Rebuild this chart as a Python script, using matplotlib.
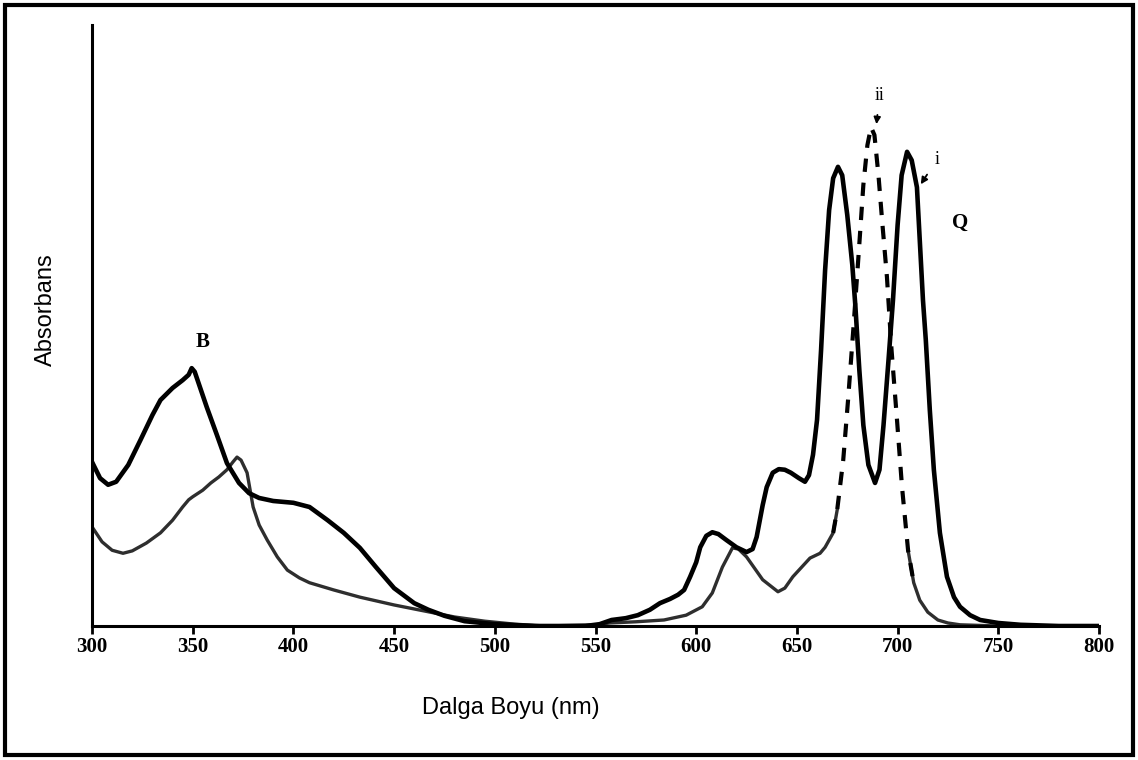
import numpy as np
import matplotlib.pyplot as plt
from matplotlib.patches import Rectangle

# spektrum i (kalin duz cizgi)
wl_i = [300, 304, 308, 312, 318, 324, 330, 334, 340, 345, 348, 349.5, 351, 357, 362, 367, 373, 378, 383, 390,
        400, 408, 417, 425, 433, 441, 450, 460, 467, 475, 485, 500, 520, 545, 552, 558, 565, 571, 577, 582,
        587, 591, 594, 597, 600, 602, 605, 608, 611, 615, 620, 625, 628, 630, 633, 635, 638, 641, 644, 647,
        651, 654, 656, 658, 660, 662, 664, 666, 668, 670.4, 672.5, 675, 677.5, 679, 681, 683, 685.5, 688.8,
        691, 693, 695.5, 697.7, 700, 702, 704.7, 707, 709.6, 712.6, 714, 716, 718, 721, 724.5, 728, 731, 736,
        741, 750, 761, 780, 800]
abs_i = [0.273, 0.246, 0.235, 0.240, 0.268, 0.309, 0.351, 0.376, 0.396, 0.409, 0.418, 0.429, 0.423, 0.364,
         0.318, 0.271, 0.238, 0.221, 0.213, 0.208, 0.205, 0.198, 0.176, 0.155, 0.130, 0.098, 0.063, 0.038,
         0.027, 0.017, 0.008, 0.003, 0.0, 0.0, 0.003, 0.010, 0.013, 0.018, 0.027, 0.038, 0.045, 0.052, 0.060,
         0.082, 0.106, 0.131, 0.150, 0.156, 0.153, 0.143, 0.131, 0.123, 0.128, 0.148, 0.201, 0.231, 0.255,
         0.261, 0.260, 0.255, 0.246, 0.240, 0.251, 0.285, 0.343, 0.459, 0.592, 0.692, 0.745, 0.764, 0.750,
         0.684, 0.601, 0.534, 0.426, 0.334, 0.268, 0.238, 0.260, 0.334, 0.443, 0.542, 0.667, 0.750, 0.789,
         0.775, 0.730, 0.542, 0.476, 0.359, 0.260, 0.155, 0.082, 0.048, 0.032, 0.018, 0.010, 0.005, 0.002,
         0.0, 0.0]

# spektrum ii (gri / kesikli)
wl_ii = [300, 305, 310, 315.4, 320, 327, 334, 340, 345, 348, 350, 355, 359, 363, 367, 370, 372, 374, 377, 380,
         383, 387, 392, 397, 403, 408, 420, 433, 450, 465, 480, 495, 510, 525, 550, 557, 570, 584, 595, 603,
         608, 613, 618, 621, 625, 633, 640.6, 644, 648, 656.5, 661.5, 664, 668, 670, 673, 675.4, 678, 680.8,
         683, 685, 686.8, 688.5, 690.5, 692.5, 694.7, 697, 699.7, 702.2, 705.2, 708, 711, 715, 720, 725, 731,
         750, 800]
abs_ii = [0.165, 0.140, 0.126, 0.121, 0.125, 0.138, 0.155, 0.176, 0.198, 0.210, 0.215, 0.226, 0.238, 0.248,
          0.260, 0.273, 0.281, 0.276, 0.255, 0.198, 0.168, 0.143, 0.115, 0.093, 0.080, 0.072, 0.060, 0.048,
          0.035, 0.025, 0.015, 0.008, 0.003, 0.0, 0.002, 0.005, 0.007, 0.010, 0.018, 0.032, 0.055, 0.098,
          0.130, 0.128, 0.115, 0.077, 0.057, 0.063, 0.082, 0.113, 0.121, 0.131, 0.155, 0.193, 0.276, 0.376,
          0.493, 0.626, 0.734, 0.800, 0.830, 0.817, 0.750, 0.667, 0.581, 0.459, 0.343, 0.231, 0.126, 0.072,
          0.043, 0.023, 0.010, 0.005, 0.002, 0.0, 0.0]

xticks = [300, 350, 400, 450, 500, 550, 600, 650, 700, 750, 800]

wl_ii = np.array(wl_ii)
abs_ii = np.array(abs_ii)
dashed = (wl_ii >= 668) & (wl_ii <= 708)
solid_left = wl_ii <= 670
solid_right = wl_ii >= 705.2

fig = plt.figure(figsize=(11.38, 7.6), dpi=100)
ax = fig.add_axes([92/1138, 1-626/760, (1099-92)/1138, (626-25)/760])

ax.plot(wl_ii[solid_left], abs_ii[solid_left], color='#2e2e2e', lw=2.4, solid_joinstyle='round')
ax.plot(wl_ii[solid_right], abs_ii[solid_right], color='#2e2e2e', lw=2.4, solid_joinstyle='round')
ax.plot(wl_ii[dashed], abs_ii[dashed], color='black', lw=3.0, linestyle=(0, (3.2, 2.6)))
ax.plot(wl_i, abs_i, color='black', lw=3.3, solid_joinstyle='round')

ax.set_xlim(300, 800)
ax.set_ylim(0, 1)
ax.set_xticks(xticks)
ax.set_xticklabels([str(t) for t in xticks], family='Liberation Serif', fontweight='bold', fontsize=15)
ax.set_yticks([])
ax.tick_params(axis='x', direction='out', length=6, width=2, pad=2)
for s in ['top', 'right']:
    ax.spines[s].set_visible(False)
ax.spines['left'].set_linewidth(2.2)
ax.spines['bottom'].set_linewidth(2.2)

ax.set_xlabel('Dalga Boyu (nm)', family='Liberation Sans', fontsize=17)
ax.set_ylabel('Absorbans', family='Liberation Sans', fontsize=17)
ax.xaxis.set_label_coords((511-92)/1007, -(708-626)/601)
ax.yaxis.set_label_coords(-(92-46)/1007, (626-310)/601)
ax.xaxis.label.set_va('center')
ax.yaxis.label.set_va('center')

ax.text(355, 0.472, 'B', family='Liberation Serif', fontweight='bold', fontsize=15, ha='center', va='center')
ax.text(731, 0.670, 'Q', family='Liberation Serif', fontweight='bold', fontsize=15, ha='center', va='center')
ax.annotate('ii', xy=(689.5, 0.835), xytext=(691, 0.883), family='Liberation Serif', fontsize=13,
            ha='center', va='center',
            arrowprops=dict(arrowstyle='-|>', color='black', lw=1.3, mutation_scale=10, shrinkA=6, shrinkB=0))
ax.annotate('i', xy=(711.5, 0.735), xytext=(719.5, 0.776), family='Liberation Serif', fontsize=13,
            ha='center', va='center',
            arrowprops=dict(arrowstyle='-|>', color='black', lw=1.3, mutation_scale=10, shrinkA=6, shrinkB=0))

fig.patches.append(Rectangle((5/1138, 5/760), 1128/1138, 750/760, transform=fig.transFigure,
                             fill=False, edgecolor='black', lw=3))

plt.savefig('out.png', dpi=100)
plt.close(fig)
